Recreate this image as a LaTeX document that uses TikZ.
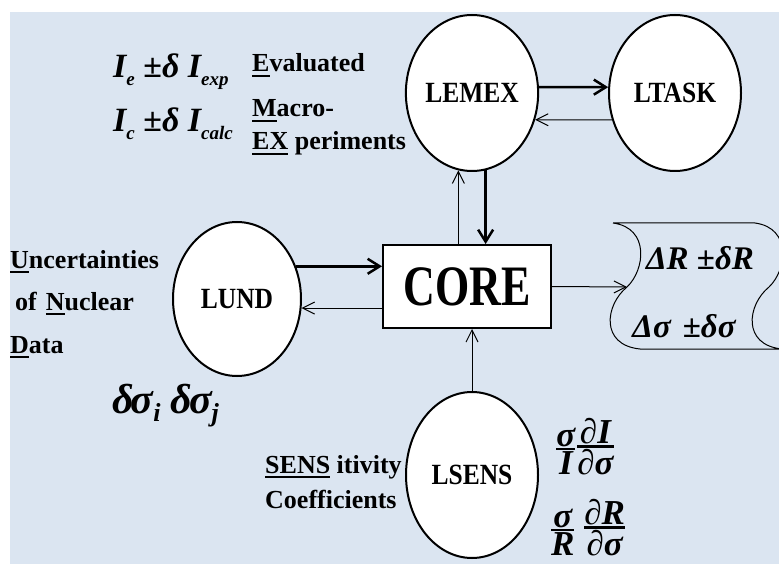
\documentclass[tikz,border=0pt]{standalone}
\usepackage{fontspec}
\setmainfont{Liberation Serif}
\usetikzlibrary{arrows.meta,shapes.geometric,calc}

\definecolor{bgblue}{HTML}{DBE5F1}

% underlined initial letters
\newcommand\ul[1]{\setbox0\hbox{#1}\rlap{\rule[-5pt]{\wd0}{2pt}}\box0\relax}
% labels inside the ellipses, slightly lowered and stretched
\newcommand\lbl[1]{\raisebox{-8pt}{\scalebox{1}[1.15]{#1}}}
% subscripts of the intensities
\newcommand\sub[1]{\raisebox{-8pt}{\fontsize{19}{19}\selectfont #1}}
% a stacked fraction with a heavy bar
\newcommand\frc[2]{\vbox{\offinterlineskip\halign{\hfil##\hfil\cr #1\cr\noalign{\kern1pt\hrule height 2.5pt\kern2pt}#2\cr}}}

\tikzset{
  ell/.style={ellipse, draw, line width=2pt, fill=white, inner sep=0pt,
              font=\fontsize{25.5}{30}\selectfont\bfseries},
  tarr/.style={line width=1pt, -{Straight Barb[length=12pt,width=12pt]}},
  karr/.style={line width=2.5pt, -{Straight Barb[length=12pt,width=15pt]}},
  txt/.style={font=\fontsize{26}{30}\selectfont\bfseries, inner sep=0pt, anchor=base west},
  mth/.style={font=\fontsize{33}{36}\selectfont\bfseries\itshape, inner sep=0pt},
}

\begin{document}
\begin{tikzpicture}[x=1pt,y=-1pt]
\useasboundingbox (0,0) rectangle (779,564);
\fill[bgblue] (10,12) rectangle (779,564);

% modules
\node[ell, minimum width=130pt, minimum height=156pt] (LEMEX) at (472,93) {\lbl{LEMEX}};
\node[ell, minimum width=132pt, minimum height=156pt] (LTASK) at (675,93) {\lbl{LTASK}};
\node[ell, minimum width=128pt, minimum height=154pt] (LUND)  at (237,299) {\raisebox{-4pt}{\scalebox{1}[1.15]{LUND}}};
\node[ell, minimum width=132pt, minimum height=166pt] (LSENS) at (472,475) {\lbl{LSENS}};
\node[draw, line width=2pt, fill=white, minimum width=168pt, minimum height=83pt, inner sep=0pt,
      font=\fontsize{44}{50}\selectfont\bfseries] (CORE) at (467,286.5)
      {\raisebox{-4pt}{\scalebox{1}[1.3]{CORE}}};

% results scroll
\begin{scope}
\clip (0,0) rectangle (779,564);
\coordinate (outin) at (627,287);
\draw[line width=1pt]
  (613,223) .. controls (650,228) and (645,270) .. (outin)
            .. controls (605,305) and (600,345) .. (640,349)
  -- (782,349)
  (755,223) .. controls (792,228) and (787,270) .. (769,287)
            .. controls (747,305) and (742,345) .. (782,349)
  (613,223) -- (755,223);
\end{scope}
\node[mth] (dR) at (700,258) {ΔR ±δR};
\node[mth] (ds) at (684,326) {Δσ\hspace{12pt}±δσ};

% connectors
\draw[karr] (LEMEX.5) -- (LTASK.175);
\draw[tarr] (LTASK.203) -- (LEMEX.-23);
\draw[karr] (LEMEX.-80) -- (LEMEX.-80 |- CORE.north);
\draw[tarr] (LEMEX.-100 |- CORE.north) -- (LEMEX.-100);
\draw[karr] (LUND.29) -- (LUND.29 -| CORE.west);
\draw[tarr] (CORE.west |- LUND.-8) -- (LUND.-8);
\draw[tarr] (LSENS.north) -- (LSENS.north |- CORE.south);
\draw[tarr] (CORE.east) -- (outin);

% experiments
\node[mth, anchor=base west, font=\fontsize{34}{36}\selectfont\bfseries\itshape] (Ie) at (113,78)
  {I\sub{e} ±δ I\sub{exp}};
\node[mth, anchor=base west, font=\fontsize{34}{36}\selectfont\bfseries\itshape] (Ic) at (113,132)
  {I\sub{c} ±δ I\sub{calc}};
\node[txt] (ev1) at (252,72) {\ul{E}valuated};
\node[txt] (ev2) at (252,117) {\ul{M}acro-};
\node[txt] (ev3) at (252,150) {\ul{EX} periments};

% nuclear data
\node[txt] (nd1) at (10,268) {\ul{U}ncertainties};
\node[txt] (nd2) at (15,310) {of\hspace{9pt}\ul{N}uclear};
\node[txt] (nd3) at (10,353) {\ul{D}ata};
\node[mth, anchor=base west, font=\fontsize{42}{44}\selectfont\bfseries\itshape] (dsig) at (112,413)
  {δ\kern-3ptσ\sub{\fontsize{26}{26}\selectfont i}\hspace{10pt}δ\kern-3ptσ\sub{\fontsize{26}{26}\selectfont j}};

% sensitivities
\node[txt] (se1) at (265,473) {\ul{SENS} itivity};
\node[txt] (se2) at (265,508) {Coefficients};
\node[mth, font=\fontsize{35}{38}\selectfont\bfseries\itshape] (fr1) at (585,447) {\frc{σ}{I}\hspace{2pt}\frc{∂I}{∂σ}};
\node[mth, font=\fontsize{35}{38}\selectfont\bfseries\itshape] (fr2) at (588,528) {\frc{σ}{R}\hspace{10pt}\frc{∂R}{∂σ}};
\end{tikzpicture}
\end{document}
